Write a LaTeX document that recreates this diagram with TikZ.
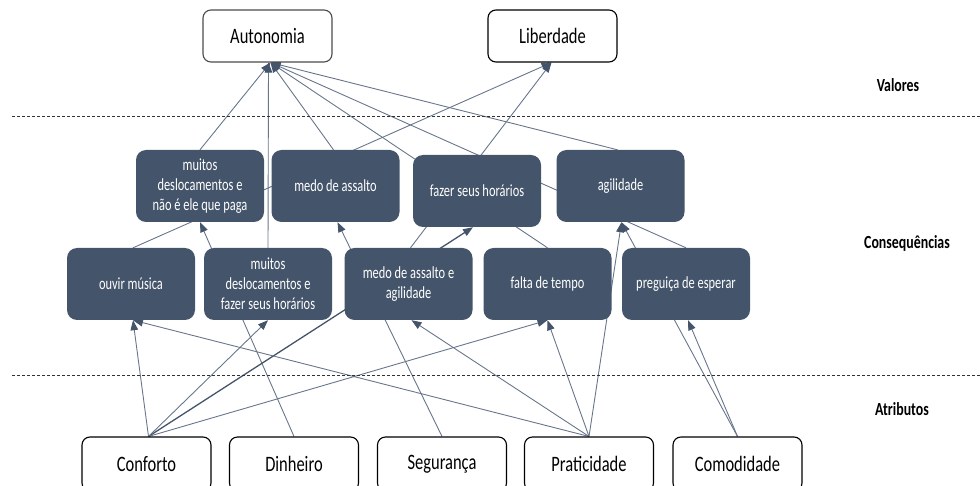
\documentclass[tikz,border=0pt]{standalone}
\usepackage{fontspec}
\setmainfont{Carlito}[FakeStretch=0.75]
\newfontfamily\condfont{Carlito}[FakeStretch=0.73]
\usetikzlibrary{arrows.meta,backgrounds}
\definecolor{slate}{HTML}{44546A}
\definecolor{edgecol}{HTML}{68768C}
\begin{document}
\begin{tikzpicture}[x=1pt,y=-1pt,
  valbox/.style={draw=black, line width=1.1pt, rounded corners=8pt, fill=white,
    minimum width=129pt, minimum height=52pt, inner sep=0pt,
    font=\fontsize{22}{24}\selectfont},
  conbox/.style={fill=slate, rounded corners=10pt, minimum width=128pt,
    minimum height=72pt, inner sep=0pt, text=white, align=center,
    font=\condfont\fontsize{17}{20}\selectfont},
  conn/.style={draw=edgecol, line width=0.9pt,
    -{Triangle[length=10pt,width=7.5pt,color=slate]}},
  lvl/.style={font=\bfseries\fontsize{18.5}{20}\selectfont},
  sepline/.style={dash pattern=on 3pt off 2pt, line width=0.9pt, black!80}
]
\useasboundingbox (0,0) rectangle (980,486);
\clip (0,0) rectangle (980,486);

% separators
\draw[sepline] (12,116) -- (980,116);
\draw[sepline] (12,375) -- (980,375);

% level labels
\node[lvl] (lv) at (898,85) {Valores};
\node[lvl] (lc) at (907,243) {Consequências};
\node[lvl] (la) at (902,409) {Atributos};

% values
\node[valbox, draw=black!70] (auto) at (267.5,36) {Autonomia};
\node[valbox] (lib) at (552.5,36) {Liberdade};

% upper consequences
\node[conbox] (u1) at (200,186) {muitos\\deslocamentos e\\não é ele que paga};
\node[conbox] (u2) at (335.5,186) {medo de assalto};
\node[conbox] (u3) at (477,191) {fazer seus horários};
\node[conbox] (u4) at (620.5,186) {agilidade};

% lower consequences
\node[conbox] (l1) at (131,284) {ouvir música};
\node[conbox] (l2) at (268,284) {muitos\\deslocamentos e\\fazer seus horários};
\node[conbox] (l3) at (408.5,284) {medo de assalto e\\agilidade};
\node[conbox] (l4) at (547.5,284) {falta de tempo};
\node[conbox] (l5) at (686,284) {preguiça de esperar};

% attributes
\node[valbox, minimum height=54pt] (conf) at (146.5,464) {Conforto};
\node[valbox, minimum height=54pt] (din) at (294,464) {Dinheiro};
\node[valbox, minimum height=54pt] (seg) at (442,464) {Segurança};
\node[valbox, minimum height=54pt] (prat) at (589,464) {Praticidade};
\node[valbox, minimum height=54pt] (comod) at (737.5,464) {Comodidade};

\begin{pgfonlayer}{background}
% into Autonomia
\draw[conn] (u1.north) -- ([xshift=3pt]auto.south);
\draw[conn] (l2.north) -- ([xshift=1pt]auto.south);
\draw[conn] ([xshift=-2pt]u2.north) -- ([xshift=3pt]auto.south);
\draw[conn] (l4.north) -- ([xshift=3pt]auto.south);
\draw[conn] (l5.north) -- ([xshift=3pt]auto.south);
\draw[conn] ([xshift=-3pt]u4.north) -- ([xshift=3pt]auto.south);
% into Liberdade
\draw[conn] ([xshift=2pt]l1.north) -- ([xshift=-1pt]lib.south);
\draw[conn] ([xshift=2pt]l3.north) -- ([xshift=-1pt]lib.south);
% into upper consequences
\draw[conn] (din.north) -- (u1.south);
\draw[conn] (seg.north) -- ([xshift=2pt]u2.south);
\draw[conn, line width=1.3pt, draw=slate] ([xshift=2pt]conf.north) -- ([xshift=-4pt]u3.south);
\draw[conn] (prat.north) -- ([xshift=1pt]u4.south);
\draw[conn] (comod.north) -- ([xshift=1pt]u4.south);
% into lower consequences
\draw[conn] ([xshift=2pt]conf.north) -- ([xshift=2pt]l1.south);
\draw[conn] (prat.north) -- ([xshift=2pt]l1.south);
\draw[conn] ([xshift=2pt]conf.north) -- (l2.south);
\draw[conn] (prat.north) -- ([xshift=3pt]l3.south);
\draw[conn] ([xshift=2pt]conf.north) -- (l4.south);
\draw[conn] (prat.north) -- (l4.south);
\draw[conn] (comod.north) -- ([xshift=2pt]l5.south);
\end{pgfonlayer}
\end{tikzpicture}
\end{document}
